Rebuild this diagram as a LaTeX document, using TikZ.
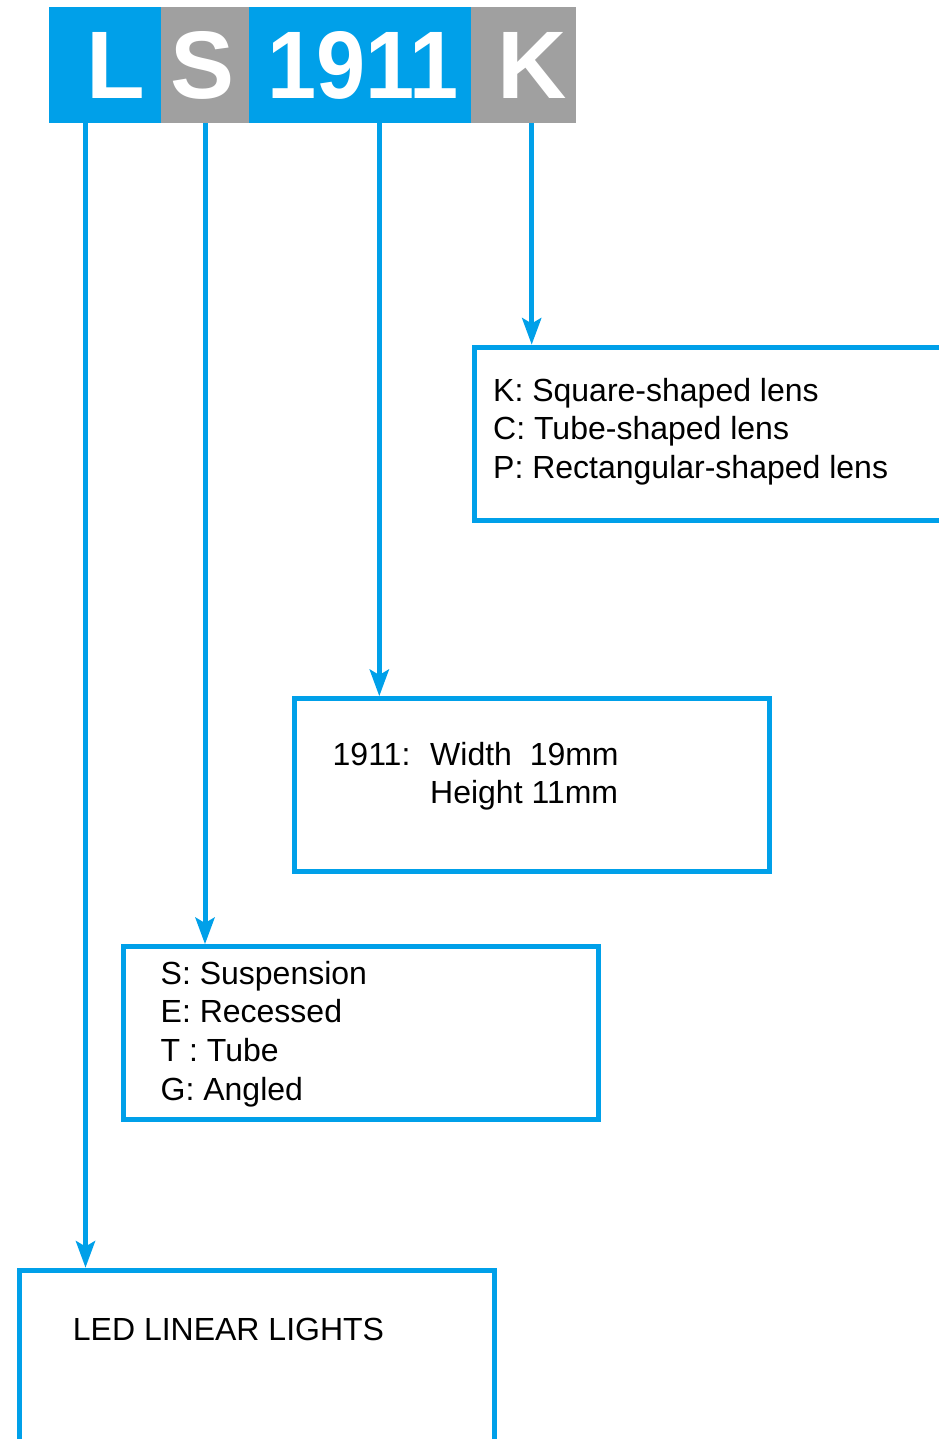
\documentclass[tikz,border=0pt]{standalone}
\usepackage{graphicx}
\usepackage{fontspec}
\setmainfont{Liberation Sans}
\usetikzlibrary{arrows.meta}
\definecolor{cblue}{RGB}{0,160,233}
\definecolor{cgray}{RGB}{160,160,160}
\begin{document}
\begin{tikzpicture}[x=1pt,y=-1pt,
  cell/.style={inner sep=0pt, outer sep=0pt, anchor=north west, minimum height=116pt},
  big/.style={font=\fontsize{96}{110}\selectfont\bfseries, text=white, inner sep=0pt, anchor=base west},
  infobox/.style={draw=cblue, line width=5pt, inner sep=0pt, anchor=north west, minimum width=475pt, minimum height=173pt},
  txt/.style={font=\fontsize{32}{38.6}\selectfont, inner sep=0pt, anchor=base west},
  arr/.style={draw=cblue, line width=5pt, -{Stealth[length=27pt,width=20pt,inset=6pt,line width=0pt]}}]
\useasboundingbox (0,0) rectangle (938,1439);

% header cells
\node[cell, fill=cblue, minimum width=112pt] (cL) at (49,7.3) {};
\node[cell, fill=cgray, minimum width=88.3pt] (cS) at (161,7.3) {};
\node[cell, fill=cblue, minimum width=221.7pt] (c19) at (249.3,7.3) {};
\node[cell, fill=cgray, minimum width=105pt] (cK) at (471,7.3) {};

% header letters
\node[big] (hL) at (86,98.7) {L};
\node[big] (hS) at (170,98.7) {S};
\node[big, anchor=base] (h19) at (363,98.7) {\scalebox{0.92}[1]{1911}};
\node[big] (hK) at (497.5,98.7) {K};

% boxes
\node[infobox] (kbox) at (471.5,344.5) {};
\node[infobox] (wbox) at (291.5,696) {};
\node[infobox] (sbox) at (120.5,944) {};
\node[infobox, minimum height=185pt] (ledbox) at (16.5,1267.5) {};

% texts
\node[txt] (tK) at (493,401) {\begin{tabular}[t]{@{}l@{}}K: Square-shaped lens\\C: Tube-shaped lens\\P: Rectangular-shaped lens\end{tabular}};
\node[txt] (t19) at (332.5,765) {1911:};
\node[txt] (tWH) at (430,765) {\begin{tabular}[t]{@{}l@{}}Width~~19mm\\Height 11mm\end{tabular}};
\node[txt] (tS) at (160.5,984.3) {\begin{tabular}[t]{@{}l@{}}S: Suspension\\E: Recessed\\T : Tube\\G: Angled\end{tabular}};
\node[txt] (tLED) at (72.7,1340) {LED LINEAR LIGHTS};

% connector start points
\path (cL.south west) ++(36.5,0) coordinate (aL);
\path (cS.south west) ++(44,0) coordinate (aS);
\path (c19.south west) ++(130,0) coordinate (a19);
\path (cK.south west) ++(60.7,0) coordinate (aK);

\draw[arr] (aL) -- (aL |- ledbox.north);
\draw[arr] (aS) -- (aS |- sbox.north);
\draw[arr] (a19) -- (a19 |- wbox.north);
\draw[arr] (aK) -- (aK |- kbox.north);
\end{tikzpicture}
\end{document}
